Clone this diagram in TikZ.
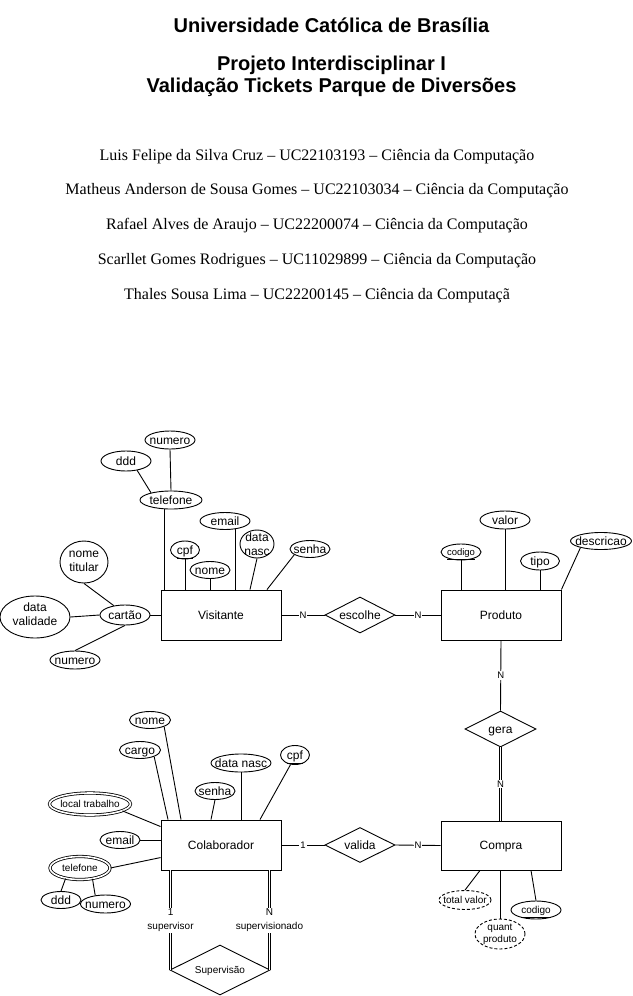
\documentclass[tikz,border=0pt]{standalone}
\usepackage{fontspec}
\setmainfont{Liberation Sans}
\newfontfamily\timesf{Liberation Serif}
\usetikzlibrary{shapes.geometric}
\newcommand\fsz[2]{\fontsize{#1}{#2}\selectfont}
\begin{document}
\begin{tikzpicture}[x=1pt,y=-1pt,line width=0.9pt,
  attr/.style={ellipse, draw, inner sep=0pt},
  lt/.style={font=\fsz{12}{14}, inner sep=0pt, text height=10.9pt, text depth=2.5pt},
  lt2/.style={font=\fsz{12}{14}, align=center, inner sep=0pt},
  ls/.style={font=\fsz{10}{12}, inner sep=0pt, text height=9.05pt, text depth=2.1pt},
  ls2/.style={font=\fsz{10}{12}, align=center, inner sep=0pt},
  ent/.style={rectangle, draw, minimum width=120, minimum height=50, inner sep=0pt, font=\fsz{12}{14}, text height=10.9pt, text depth=2.5pt},
  rel/.style={diamond, draw, inner sep=0pt},
  card/.style={fill=white, inner sep=1pt, font=\fsz{9.5}{11}},
  dbl/.style={double, double distance=1.6pt, line width=0.8pt},
  dsh/.style={dash pattern=on 3pt off 2pt},
  title/.style={font=\bfseries\fsz{20}{22}, align=center},
  person/.style={font=\timesf\fsz{16}{18}}]
\useasboundingbox[fill=white] (0,0) rectangle (632,996);

% ---------- header ----------
\node[title] (t1) at (331.5,25) {Universidade Católica de Brasília};
\node[title] (t2) at (331.5,76) {Projeto Interdisciplinar I\\Validação Tickets Parque de Diversões};
\node[person] (p1) at (317,157) {Luis Felipe da Silva Cruz – UC22103193 – Ciência da Computação};
\node[person] (p2) at (317,191) {Matheus Anderson de Sousa Gomes – UC22103034 – Ciência da Computação};
\node[person] (p3) at (317,226) {Rafael Alves de Araujo – UC22200074 – Ciência da Computação};
\node[person] (p4) at (317,261) {Scarllet Gomes Rodrigues – UC11029899 – Ciência da Computação};
\node[person] (p5) at (317,296) {Thales Sousa Lima – UC22200145 – Ciência da Computaçã};

% ---------- Visitante ----------
\node[ent] (vis) at (221,615) {Visitante};
\node[attr, minimum width=50, minimum height=20, label={[lt]center:cartão}] (cartao) at (125,615) {};
\node[attr, minimum width=70, minimum height=42, label={[lt2, yshift=2.3pt]center:{data\\validade}}] (dval) at (35,617) {};
\node[attr, minimum width=48, minimum height=42, label={[lt2, yshift=0.8pt]center:{nome\\titular}}] (ntit) at (84,562) {};
\node[attr, minimum width=50, minimum height=18, label={[lt]center:numero}] (cnum) at (75,660) {};
\node[attr, minimum width=62, minimum height=18, label={[lt]center:telefone}] (vtel) at (171,500) {};
\node[attr, minimum width=50, minimum height=20, label={[lt]center:ddd}] (vddd) at (126,461) {};
\node[attr, minimum width=50, minimum height=18, label={[lt]center:numero}] (vtnum) at (170,440) {};
\node[attr, minimum width=29, minimum height=18, label={[lt]center:\underline{cpf}}] (vcpf) at (185,550) {};
\node[attr, minimum width=40, minimum height=17, label={[lt]center:nome}] (vnome) at (210,570) {};
\node[attr, minimum width=50, minimum height=17, label={[lt]center:email}] (vemail) at (225,521) {};
\node[attr, minimum width=34, minimum height=28, label={[lt2]center:{data\\nasc}}] (vdn) at (257,544) {};
\node[attr, minimum width=40, minimum height=17, label={[lt]center:senha}] (vsenha) at (310,549) {};

\draw (cartao.east) -- (vis.west);
\draw (cartao.west) -- (dval.east);
\draw (cartao.140) -- (ntit.south);
\draw (cartao.south) -- (cnum.north);
\draw ([xshift=-7pt]vtel.south) -- ([xshift=-57pt]vis.north);
\draw (vtnum.south) -- (vtel.north);
\draw (vddd.-40) -- (vtel.160);
\draw (vcpf.south) -- (vcpf.south |- vis.north);
\draw (vnome.south) -- (vnome.south |- vis.north);
\draw (vemail.-38) -- (vemail.-38 |- vis.north);
\draw (vdn.south) -- ([xshift=29pt]vis.north);
\draw (vsenha.-160) -- ([xshift=46pt]vis.north);

% ---------- escolhe / Produto ----------
\node[rel, minimum width=70, minimum height=36, label={[lt]center:escolhe}] (esc) at (360,615) {};
\node[ent] (prod) at (501,615) {Produto};
\draw (vis.east) -- node[card] {N} (esc.west);
\draw (esc.east) -- node[card] {N} (prod.west);

\node[attr, minimum width=40, minimum height=16, label={[ls,font=\fsz{9.5}{11}]center:\underline{codigo}}] (pcod) at (461,552) {};
\node[attr, minimum width=50, minimum height=18, label={[lt]center:valor}] (pval) at (505,520) {};
\node[attr, minimum width=39, minimum height=18, label={[lt]center:tipo}] (ptipo) at (540,561) {};
\node[attr, minimum width=61, minimum height=17, label={[lt]center:descricao}] (pdesc) at (601,541) {};
\draw (pcod.south) -- (pcod.south |- prod.north);
\draw (pval.south) -- (pval.south |- prod.north);
\draw (ptipo.south) -- (ptipo.south |- prod.north);
\draw (pdesc.-162) -- (prod.north east);

% ---------- gera / Compra ----------
\node[rel, minimum width=71, minimum height=36, label={[lt]center:gera}] (gera) at (500.5,729) {};
\node[ent, minimum height=49] (comp) at (501,845.5) {Compra};
\draw (prod.south) -- node[card] {N} (gera.north);
\draw[dbl] (gera.south) -- node[card] {N} (gera.south |- comp.north);

\node[attr, dsh, minimum width=52, minimum height=19, label={[ls]center:total valor}] (ctot) at (465,900) {};
\node[attr, dsh, minimum width=50, minimum height=30, label={[ls2]center:{quant\\produto}}] (cqp) at (500,934) {};
\node[attr, minimum width=50, minimum height=18, label={[ls]center:\underline{codigo}}] (ccod) at (536,910) {};
\draw ([xshift=-21pt]comp.south) -- (ctot.north);
\draw (cqp.north) -- (cqp.north |- comp.south);
\draw ([xshift=30pt]comp.south) -- (ccod.north);

% ---------- Colaborador / valida ----------
\node[ent] (col) at (221,845) {Colaborador};
\node[rel, minimum width=70, minimum height=35, label={[lt]center:valida}] (val) at (360,845) {};
\draw (col.east) -- node[card] {1} (val.west);
\draw (val.east) -- node[card] {N} (comp.west);

\node[attr, minimum width=41, minimum height=17, label={[lt]center:nome}] (cnome) at (150,720) {};
\node[attr, minimum width=41, minimum height=17, label={[lt]center:cargo}] (ccargo) at (140,750) {};
\node[attr, minimum width=60, minimum height=18, label={[lt]center:data nasc}] (cdn) at (241,763) {};
\node[attr, minimum width=29, minimum height=19, label={[lt]center:\underline{cpf}}] (ccpf) at (295,755) {};
\node[attr, minimum width=40, minimum height=17, label={[lt]center:senha}] (csenha) at (215,791) {};
\node[attr, dbl, minimum width=81, minimum height=22, label={[ls]center:local trabalho}] (cloc) at (90,804) {};
\node[attr, minimum width=40, minimum height=17, label={[lt]center:email}] (cemail) at (120,840) {};
\node[attr, dbl, minimum width=60, minimum height=23, label={[ls]center:telefone}] (ctel) at (80,868) {};
\node[attr, minimum width=40, minimum height=17, label={[lt]center:ddd}] (cddd) at (61,900) {};
\node[attr, minimum width=50, minimum height=18, label={[lt]center:numero}] (cnum2) at (105.5,904) {};

\draw (cnome.-25) -- ([xshift=-40pt]col.north);
\draw (ccargo.-25) -- ([xshift=-53pt]col.north);
\draw (cdn.south) -- (cdn.south |- col.north);
\draw (ccpf.-115) -- ([xshift=39pt]col.north);
\draw (csenha.south) -- ([xshift=-10pt]col.north);
\draw (cloc.-12) -- ([yshift=-7pt]col.north west);
\draw (cemail.east) -- (cemail.east -| col.west);
\draw (ctel.east) -- ([yshift=-38pt]col.north west);
\draw (ctel.-144) -- (cddd.north);
\draw (ctel.-41) -- (cnum2.140);

% ---------- Supervisão ----------
\node[rel, minimum width=100, minimum height=50, label={[ls]center:Supervisão}] (sup) at (220,970) {};
\draw[dbl] ([xshift=10pt]col.south west) -- node[card, font=\fsz{10}{14}, align=center] {1\\supervisor} ([xshift=10pt]col.south west |- sup.west);
\draw[dbl] ([xshift=-12pt]col.south east) -- node[card, font=\fsz{10}{14}, align=center] {N\\supervisionado} ([xshift=-12pt]col.south east |- sup.east);
\end{tikzpicture}
\end{document}
